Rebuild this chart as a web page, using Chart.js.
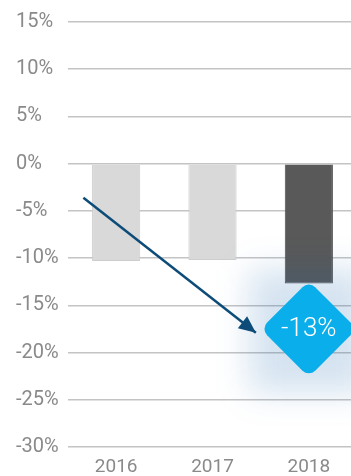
<!DOCTYPE html>
<html>
<head>
<meta charset="utf-8">
<script src="https://cdn.jsdelivr.net/npm/chart.js@4/dist/chart.umd.min.js"></script>
<style>
html,body{margin:0;padding:0;background:#fff;overflow:hidden;width:351px;height:476px;}
#wrap{position:relative;width:357px;height:476px;}
</style>
</head>
<body>
<div id="wrap"><canvas id="c"></canvas></div>
<script>
// ---- data ----
const categories = ["2016", "2017", "2018"];
const changeValues = [-10.3, -10.2, -12.7];
const barColors = ["#d9d9d9", "#d9d9d9", "#595959"];
const barBorders = ["#cdcdcd", "#cdcdcd", "#4d4d4d"];
const trendX = [-0.34, 1.45];       // category-index positions of the arrow ends
const trendY = [-3.6, -17.9];       // values of the arrow ends (%)
const calloutText = "-13%";
const calloutCategory = 2;
const calloutValue = -17.5;
const yMin = -30, yMax = 15, yStep = 5;

const trendPoints = trendX.map((x, i) => ({ x: x, y: trendY[i] }));

const overlay = {
  id: 'overlay',
  afterDatasetsDraw(chart) {
    const ctx = chart.ctx;
    const cx = chart.scales.x.getPixelForValue(calloutCategory);
    const cy = chart.scales.y.getPixelForValue(calloutValue);

    // soft glow behind the callout
    ctx.save();
    ctx.filter = 'blur(16px)';
    ctx.fillStyle = 'rgba(20,100,170,0.18)';
    ctx.fillRect(cx - 60, cy - 60, 120, 124);
    ctx.restore();

    // arrowhead
    const meta = chart.getDatasetMeta(1);
    const p0 = meta.data[0], p1 = meta.data[1];
    const ang = Math.atan2(p1.y - p0.y, p1.x - p0.x);
    ctx.save();
    ctx.fillStyle = '#0d4c78';
    ctx.translate(p1.x, p1.y);
    ctx.rotate(ang);
    ctx.beginPath();
    ctx.moveTo(0, 0);
    ctx.lineTo(-17, -7.5);
    ctx.lineTo(-17, 7.5);
    ctx.closePath();
    ctx.fill();
    ctx.restore();

    // diamond callout
    const s = 68, r = 9;
    ctx.save();
    ctx.translate(cx, cy);
    ctx.rotate(Math.PI / 4);
    ctx.fillStyle = '#0aaeea';
    ctx.beginPath();
    ctx.roundRect(-s / 2, -s / 2, s, s, r);
    ctx.fill();
    ctx.restore();
    ctx.save();
    ctx.fillStyle = '#ffffff';
    ctx.font = '300 26px Roboto';
    ctx.textAlign = 'center';
    ctx.textBaseline = 'middle';
    ctx.fillText(calloutText, cx, cy + 1);
    ctx.restore();
  }
};

new Chart(document.getElementById('c'), {
  type: 'bar',
  data: {
    labels: categories,
    datasets: [
      {
        type: 'bar',
        data: changeValues,
        backgroundColor: barColors,
        borderColor: barBorders,
        borderWidth: 1,
        barPercentage: 0.5,
        categoryPercentage: 1,
        grouped: false,
        order: 2
      },
      {
        type: 'line',
        data: trendPoints,
        xAxisID: 'x2',
        borderColor: '#0d4c78',
        borderWidth: 2.5,
        pointRadius: 0,
        fill: false,
        order: 1
      }
    ]
  },
  options: {
    responsive: true,
    maintainAspectRatio: false,
    animation: false,
    layout: { padding: { left: 16, top: 10, right: 0, bottom: 0 } },
    plugins: { legend: { display: false }, tooltip: { enabled: false } },
    scales: {
      x: {
        type: 'category',
        grid: { display: false, drawTicks: false },
        border: { display: false },
        ticks: { color: '#8a8a8a', font: { family: 'Roboto', size: 19, lineHeight: 1 }, padding: 11 },
        afterFit: s => { s.height = 29; }
      },
      x2: {
        type: 'linear',
        display: false,
        offset: false,
        min: -0.5,
        max: 2.5
      },
      y: {
        min: yMin,
        max: yMax,
        grid: { color: '#c4c4c4', lineWidth: 1.5, drawTicks: false },
        border: { display: false },
        ticks: {
          stepSize: yStep,
          color: '#8a8a8a',
          crossAlign: 'far',
          padding: 10,
          font: { family: 'Roboto', size: 20 },
          callback: v => v + '%'
        },
        afterFit: s => { s.width = 52; }
      }
    }
  },
  plugins: [overlay]
});
</script>
</body>
</html>
